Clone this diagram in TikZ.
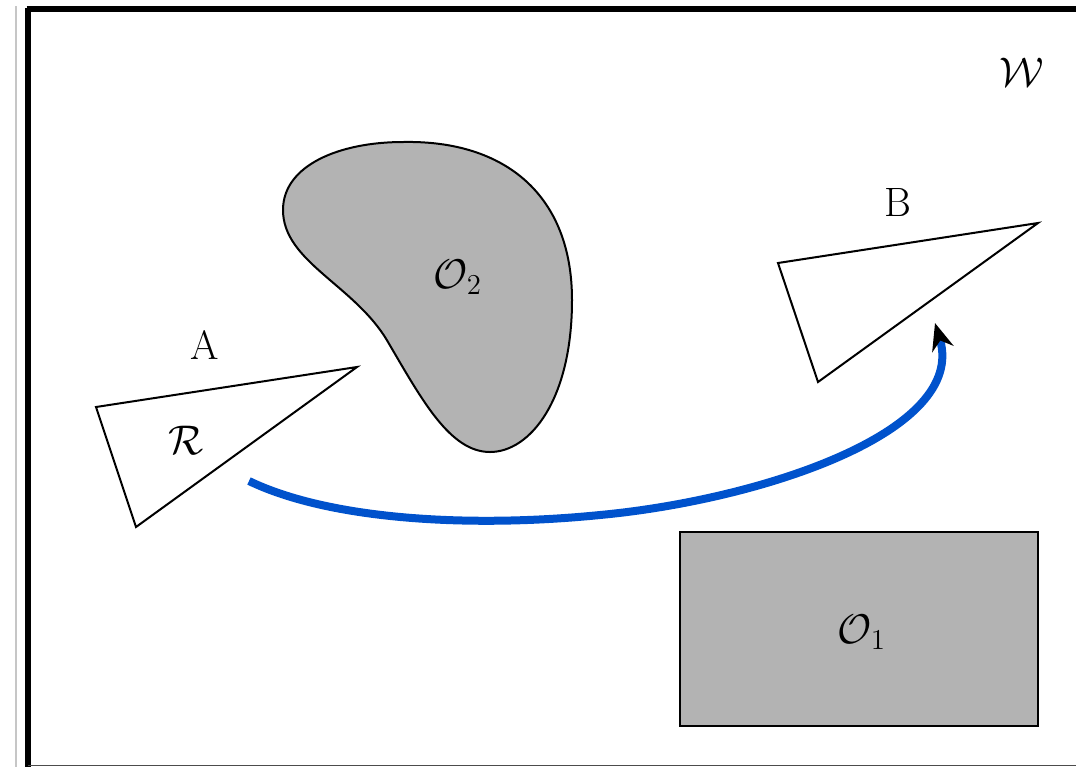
\documentclass[tikz,border=0pt]{standalone}
\usetikzlibrary{arrows.meta}
\definecolor{pathblue}{RGB}{0,82,204}
\definecolor{obst}{RGB}{179,179,179}
\begin{document}
\begin{tikzpicture}[x=0.5pt,y=-0.5pt,
  lbl/.style={font=\fontsize{20.5}{24}\selectfont, inner sep=0pt},
  robot/.style={draw=black, line width=1pt, line join=miter, fill=white},
  obstacle/.style={draw=black, line width=1pt, fill=obst},
  frameline/.style={draw=black, line width=2.6pt},
  traj/.style={draw=pathblue, line width=4pt, -{Stealth[length=13.5pt,width=11pt,color=black]}}]
\useasboundingbox (0,0) rectangle (1076,767);
% outer lines
\draw[gray!45, line width=0.6pt] (16,6) -- (16,767);
\draw[frameline] (28,7.7) -- (28,767);
\draw[frameline] (26.7,9) -- (1076,9);
\draw[black!70, line width=0.8pt] (28,765.5) -- (1076,765.5);
% obstacle O2
\draw[obstacle] (403,142) .. controls (505,140) and (572,195) .. (572,300)
  .. controls (572,400) and (530,452) .. (490,452)
  .. controls (450,452) and (422,400) .. (388,342)
  .. controls (355,285) and (283,262) .. (283,210)
  .. controls (283,165) and (340,142) .. cycle;
\node[lbl] (o2) at (458,277) {$\mathcal{O}_2$};
% obstacle O1
\draw[obstacle] (680,532) rectangle (1038,726);
\node[lbl] (o1) at (862,632) {$\mathcal{O}_1$};
% robot at A
\draw[robot] (96,407) -- (357,367) -- (136,527) -- cycle;
\node[lbl] (la) at (205,345) {A};
\node[lbl] (lr) at (186,440) {$\mathcal{R}$};
% robot at B
\draw[robot] (778,263) -- (1038,223) -- (818,382) -- cycle;
\node[lbl] (lb) at (898,202) {B};
% workspace label
\node[lbl] (lw) at (1022,72) {$\mathcal{W}$};
% trajectory
\coordinate (start) at (249,481);
\coordinate (mid) at (600,515);
\coordinate (goal) at (935,323);
\draw[traj] (start) .. controls (330,520) and (470,528) .. (mid)
  .. controls (760,500) and (968,432) .. (goal);
\end{tikzpicture}
\end{document}
